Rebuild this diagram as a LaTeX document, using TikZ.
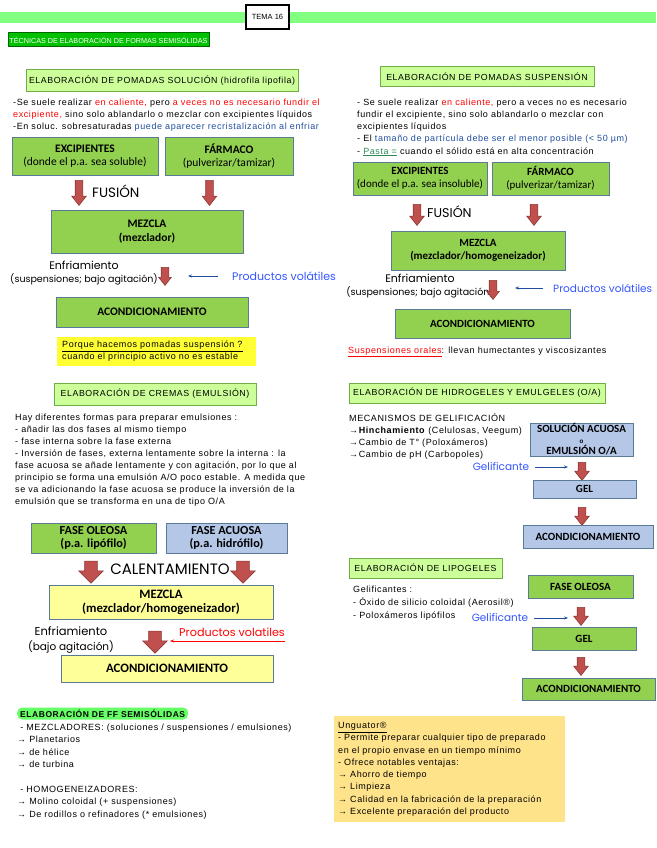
\documentclass[tikz,border=0pt]{standalone}
\usepackage{fontspec}
\setmainfont{Liberation Sans}
\newfontfamily\notefont[LetterSpace=6.5]{Liberation Sans}
\newfontfamily\boxfont{Carlito}
\newfontfamily\handfont{Poppins}
\usetikzlibrary{shapes.arrows,arrows.meta}

\definecolor{bandgreen}{HTML}{80FF80}
\definecolor{titlegreen}{HTML}{00C000}
\definecolor{headfill}{HTML}{CCFF99}
\definecolor{headborder}{HTML}{70AD47}
\definecolor{boxgreen}{HTML}{92D050}
\definecolor{boxblue}{HTML}{B4C7E7}
\definecolor{boxyellow}{HTML}{FFFF99}
\definecolor{boxborder}{HTML}{5B7A9A}
\definecolor{arrowred}{HTML}{C0504D}
\definecolor{arrowdark}{HTML}{8C3836}
\definecolor{notered}{HTML}{FF0000}
\definecolor{noteblue}{HTML}{1F4E9F}
\definecolor{handblue}{HTML}{3355FF}
\definecolor{noteyellow}{HTML}{FFFF33}
\definecolor{ungfill}{HTML}{FFE38A}
\definecolor{markgreen}{HTML}{66FF66}
\definecolor{pastagreen}{HTML}{2E8B57}

\begin{document}
\begin{tikzpicture}[x=1pt,y=-1pt,
  every node/.style={inner sep=0pt},
  txt/.style={anchor=west,font=\notefont\fontsize{9}{12}\selectfont},
  notes/.style={anchor=north west,align=left,font=\notefont\fontsize{9}{12}\selectfont},
  head/.style={draw=headborder,fill=headfill,line width=1pt,font=\notefont\fontsize{8.8}{10}\selectfont},
  box/.style={draw=boxborder,line width=0.8pt,align=center,font=\boxfont\bfseries\fontsize{11}{12.5}\selectfont},
  greenbox/.style={box,fill=boxgreen},
  bluebox/.style={box,fill=boxblue},
  yellowbox/.style={box,fill=boxyellow,font=\boxfont\bfseries\fontsize{12.8}{14}\selectfont},
  blockarrow/.style={single arrow,draw=arrowdark,fill=arrowred,line width=0.6pt,
    rotate=-90,minimum width=0pt,inner xsep=0pt,inner ysep=3.5pt,
    single arrow head extend=3.5pt,single arrow tip angle=76},
  bigarrow/.style={blockarrow,inner ysep=6pt,single arrow head extend=6pt,single arrow tip angle=90},
  hand/.style={font=\handfont\fontsize{9.5}{13}\selectfont},
  thinarrow/.style={-{Stealth[length=4pt,width=3pt]},line width=0.6pt}]
\useasboundingbox (0,0) rectangle (656,848);

% cabecera
\fill[bandgreen] (0,12) rectangle (656,23);
\node[draw,line width=1.2pt,fill=white,minimum width=43,minimum height=24,
  font=\fontsize{7.5}{9}\selectfont] (tema) at (267.5,17) {TEMA 16};
\node[draw=green!40!black,line width=1pt,fill=titlegreen,text=white,
  minimum width=201,minimum height=14,font=\fontsize{7.2}{9}\selectfont]
  (title) at (108.5,40) {TÉCNICAS DE ELABORACIÓN DE FORMAS SEMISÓLIDAS};

% pomadas solucion
\node[head,minimum width=272,minimum height=22] (h1) at (162,81)
  {ELABORACIÓN DE POMADAS SOLUCIÓN (hidrofila lipofila)};
\node[notes] (t1) at (13,98.5)
  {-Se suele realizar \textcolor{notered}{en caliente,} pero \textcolor{notered}{a veces no es necesario fundir el}\\
   \textcolor{notered}{excipiente,} sino solo ablandarlo o mezclar con excipientes líquidos\\
   -En soluc. sobresaturadas \textcolor{noteblue}{puede aparecer recristalización al enfriar}};
\node[greenbox,minimum width=146,minimum height=38,font=\boxfont\bfseries\fontsize{11.5}{13.5}\selectfont]
  (exc1) at (85,156) {EXCIPIENTES\\{\mdseries(donde el p.a. sea soluble)}};
\node[greenbox,minimum width=128,minimum height=38,font=\boxfont\bfseries\fontsize{11.5}{13.5}\selectfont]
  (farm1) at (229,156) {FÁRMACO\\{\mdseries(pulverizar/tamizar)}};
\node[blockarrow,minimum height=25] (a1) at (79,190.5) {};
\node[blockarrow,minimum height=25] (a2) at (209.5,190.5) {};
\node[hand,anchor=west,font=\handfont\fontsize{13.5}{15}\selectfont] (fus1) at (92,191) {FUSIÓN};
\node[greenbox,minimum width=192,minimum height=43,font=\boxfont\bfseries\fontsize{11.5}{13.5}\selectfont]
  (mez1) at (147,231.5) {MEZCLA\\(mezclador)};
\node[hand,align=center] (enf1) at (84,273.5)
  {{\fontsize{11}{13}\selectfont Enfriamiento}\\(suspensiones; bajo agitación)};
\node[blockarrow,minimum height=18,single arrow head extend=2.5pt] (a3) at (165,274) {};
\node[hand,anchor=west,text=handblue,font=\handfont\fontsize{11}{13}\selectfont]
  (pv1) at (232,276) {Productos volátiles};
\coordinate (pv1end) at (188,276);
\draw[thinarrow,noteblue] ([xshift=-14pt]pv1.west) -- (pv1end);
\node[greenbox,minimum width=192,minimum height=30,font=\boxfont\bfseries\fontsize{11.5}{13.5}\selectfont]
  (acd1) at (152,312) {ACONDICIONAMIENTO};
\node[notes,fill=noteyellow,text width=189,inner xsep=5,inner ysep=4] (why) at (57,337)
  {\underline{Porque hacemos pomadas suspensión ?}\\cuando el principio activo no es estable};

% cremas
\node[head,minimum width=202,minimum height=22] (h3) at (155,394)
  {ELABORACIÓN DE CREMAS (EMULSIÓN)};
\node[notes] (t3) at (15,413.5)
  {Hay diferentes formas para preparar emulsiones :\\
   - añadir las dos fases al mismo tiempo\\
   - fase interna sobre la fase externa\\
   - Inversión de fases, externa lentamente sobre la interna : la\\
   fase acuosa se añade lentamente y con agitación, por lo que al\\
   principio se forma una emulsión A/O poco estable. A medida que\\
   se va adicionando la fase acuosa se produce la inversión de la\\
   emulsión que se transforma en una de tipo O/A};
\node[greenbox,minimum width=125,minimum height=30,font=\boxfont\bfseries\fontsize{12.3}{13.5}\selectfont]
  (fo1) at (93.5,538) {FASE OLEOSA\\(p.a. lipófilo)};
\node[bluebox,minimum width=121,minimum height=30,font=\boxfont\bfseries\fontsize{12.3}{13.5}\selectfont]
  (fa1) at (226.5,538) {FASE ACUOSA\\(p.a. hidrófilo)};
\node[bigarrow,minimum height=22] (a4) at (91,569) {};
\node[bigarrow,minimum height=22] (a5) at (243,569) {};
\node[hand,font=\handfont\fontsize{15}{17}\selectfont] (cal) at (170,569) {CALENTAMIENTO};
\node[yellowbox,minimum width=224,minimum height=34] (mez3) at (161,602)
  {MEZCLA\\(mezclador/homogeneizador)};
\node[hand,align=center,font=\handfont\fontsize{10.5}{15}\selectfont] (enf3) at (71,640.5)
  {{\fontsize{11.5}{15}\selectfont Enfriamiento}\\(bajo agitación)};
\node[bigarrow,minimum height=22] (a6) at (155,639) {};
\node[hand,text=notered,font=\handfont\fontsize{11.2}{13}\selectfont] (pv3) at (232,632) {Productos volatiles};
\coordinate (pv3end) at (170,641);
\draw[thinarrow,notered] (pv3.east |- pv3end) -- (pv3end);
\node[yellowbox,minimum width=212,minimum height=27] (acd3) at (167,668.5) {ACONDICIONAMIENTO};

% ff semisolidas
\node[anchor=west,fill=markgreen,rounded corners=5pt,inner xsep=3,minimum height=12,
  font=\notefont\bfseries\fontsize{8.5}{10}\selectfont] (ffh) at (17,713.5) {ELABORACIÓN DE FF SEMISÓLIDAS};
\node[notes,font=\notefont\fontsize{9}{12.4}\selectfont] (t5) at (17,723.5)
  {~- MEZCLADORES: (soluciones / suspensiones / emulsiones)\\
   → Planetarios\\
   → de hélice\\
   → de turbina\\[12.4pt]
   ~- HOMOGENEIZADORES:\\
   → Molino coloidal (+ suspensiones)\\
   → De rodillos o refinadores (* emulsiones)};

% pomadas suspension
\node[head,minimum width=214,minimum height=20] (h2) at (487,77)
  {ELABORACIÓN DE POMADAS SUSPENSIÓN};
\node[notes,font=\notefont\fontsize{9}{12.2}\selectfont] (t2) at (357,98.5)
  {- Se suele realizar \textcolor{notered}{en caliente,} pero a veces no es necesario\\
   fundir el excipiente, sino solo ablandarlo o mezclar con\\
   excipientes líquidos\\
   - El \textcolor{noteblue}{tamaño de partícula debe ser el menor posible (< 50 µm)}\\
   - \textcolor{pastagreen}{\underline{Pasta =}} cuando el sólido está en alta concentración};
\node[greenbox,minimum width=134,minimum height=33] (exc2) at (420,178.5)
  {EXCIPIENTES\\{\mdseries(donde el p.a. sea insoluble)}};
\node[greenbox,minimum width=117,minimum height=33] (farm2) at (550.5,178.5)
  {FÁRMACO\\{\mdseries(pulverizar/tamizar)}};
\node[blockarrow,minimum height=21] (a7) at (417,212.5) {};
\node[blockarrow,minimum height=21] (a8) at (534,212.5) {};
\node[hand,anchor=west,font=\handfont\fontsize{12.7}{14}\selectfont] (fus2) at (427,212) {FUSIÓN};
\node[greenbox,minimum width=174,minimum height=39] (mez2) at (478,250.5)
  {MEZCLA\\(mezclador/homogeneizador)};
\node[hand,align=center] (enf2) at (420,286.5)
  {{\fontsize{11}{13}\selectfont Enfriamiento}\\(suspensiones; bajo agitación)};
\node[blockarrow,minimum height=19,single arrow head extend=2.5pt] (a9) at (493,287.5) {};
\node[hand,anchor=west,text=handblue,font=\handfont\fontsize{10.5}{12}\selectfont]
  (pv2) at (553,288) {Productos volátiles};
\coordinate (pv2end) at (515,288);
\draw[thinarrow,noteblue] ([xshift=-10pt]pv2.west) -- (pv2end);
\node[greenbox,minimum width=175,minimum height=29] (acd2) at (482.5,323.5) {ACONDICIONAMIENTO};
\node[txt] (t4) at (348,352)
  {\textcolor{notered}{\underline{Suspensiones orales}}: llevan humectantes y viscosizantes};

% hidrogeles
\node[head,minimum width=256,minimum height=20] (h4) at (477,393)
  {ELABORACIÓN DE HIDROGELES Y EMULGELES (O/A)};
\node[notes] (t6) at (349,413.5)
  {MECANISMOS DE GELIFICACIÓN\\
   →\textbf{Hinchamiento} (Celulosas, Veegum)\\
   →Cambio de T° (Poloxámeros)\\
   →Cambio de pH (Carbopoles)};
\node[bluebox,minimum width=103,minimum height=33] (sol) at (581.5,439.5)
  {SOLUCIÓN ACUOSA\\[-2pt]{\fontsize{7}{7}\selectfont o}\\[-1pt]EMULSIÓN O/A};
\node[hand,text=handblue,font=\handfont\fontsize{10.5}{12}\selectfont] (gf1) at (501,467) {Gelificante};
\coordinate (gf1end) at (568,467);
\draw[thinarrow,noteblue] ([xshift=6pt]gf1.east) -- (gf1end);
\node[blockarrow,minimum height=18] (a10) at (582,469) {};
\node[bluebox,minimum width=103,minimum height=18] (gel1) at (584.5,489) {GEL};
\node[blockarrow,minimum height=18] (a11) at (582,514) {};
\node[bluebox,minimum width=130,minimum height=23] (acd4) at (588,536.5) {ACONDICIONAMIENTO};

% lipogeles
\node[head,minimum width=153,minimum height=20] (h5) at (425.5,568)
  {ELABORACIÓN DE LIPOGELES};
\node[notes,font=\notefont\fontsize{9}{13}\selectfont] (t7) at (353,585.5)
  {Gelificantes :\\
   - Óxido de silicio coloidal (Aerosil®)\\
   - Poloxámeros lipófilos};
\node[greenbox,minimum width=105,minimum height=23] (fo2) at (580.5,586.5) {FASE OLEOSA};
\node[hand,text=handblue,font=\handfont\fontsize{10.5}{12}\selectfont] (gf2) at (500,618) {Gelificante};
\coordinate (gf2end) at (568,618);
\draw[thinarrow,noteblue] ([xshift=6pt]gf2.east) -- (gf2end);
\node[blockarrow,minimum height=18] (a12) at (581,614) {};
\node[greenbox,minimum width=104,minimum height=23] (gel2) at (584,638.5) {GEL};
\node[blockarrow,minimum height=18] (a13) at (581,664) {};
\node[greenbox,minimum width=133,minimum height=22] (acd5) at (588.5,689) {ACONDICIONAMIENTO};

% unguator
\node[notes,fill=ungfill,text width=223,inner xsep=4,inner ysep=6,font=\notefont\fontsize{9}{12.3}\selectfont]
  (ung) at (334,716)
  {\underline{Unguator®}\\
   - Permite preparar cualquier tipo de preparado\\
   en el propio envase en un tiempo mínimo\\
   - Ofrece notables ventajas:\\
   → Ahorro de tiempo\\
   → Limpieza\\
   → Calidad en la fabricación de la preparación\\
   → Excelente preparación del producto};
\end{tikzpicture}
\end{document}
